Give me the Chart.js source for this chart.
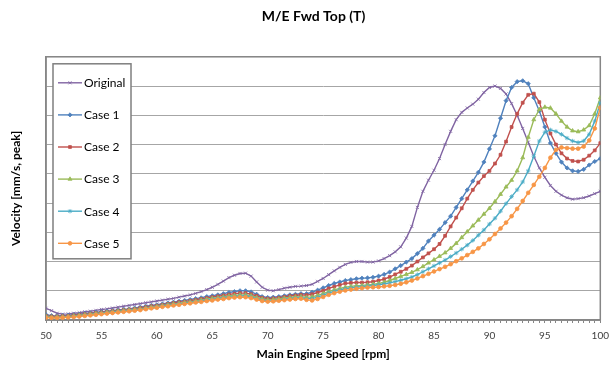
<!DOCTYPE html>
<html>
<head>
<meta charset="utf-8">
<script src="https://cdn.jsdelivr.net/npm/chart.js"></script>
<style>
  html, body { margin: 0; padding: 0; background: #fff; }
</style>
</head>
<body>
<canvas id="velChart" width="616" height="365"></canvas>
<script>
// rpm steps (x categories)
const rpm = [
  50, 50.5, 51, 51.5, 52, 52.5, 53, 53.5, 54, 54.5,
  55, 55.5, 56, 56.5, 57, 57.5, 58, 58.5, 59, 59.5,
  60, 60.5, 61, 61.5, 62, 62.5, 63, 63.5, 64, 64.5,
  65, 65.5, 66, 66.5, 67, 67.5, 68, 68.5, 69, 69.5,
  70, 70.5, 71, 71.5, 72, 72.5, 73, 73.5, 74, 74.5,
  75, 75.5, 76, 76.5, 77, 77.5, 78, 78.5, 79, 79.5,
  80, 80.5, 81, 81.5, 82, 82.5, 83, 83.5, 84, 84.5,
  85, 85.5, 86, 86.5, 87, 87.5, 88, 88.5, 89, 89.5,
  90, 90.5, 91, 91.5, 92, 92.5, 93, 93.5, 94, 94.5,
  95, 95.5, 96, 96.5, 97, 97.5, 98, 98.5, 99, 99.5,
  100
];

const original = [
  0.40, 0.32, 0.23, 0.20, 0.21, 0.23, 0.25, 0.28, 0.30, 0.33,
  0.36, 0.38, 0.41, 0.44, 0.47, 0.50, 0.53, 0.56, 0.59, 0.62,
  0.65, 0.68, 0.71, 0.74, 0.78, 0.82, 0.86, 0.91, 0.97, 1.04,
  1.12, 1.22, 1.33, 1.45, 1.53, 1.59, 1.60, 1.50, 1.30, 1.12,
  1.02, 1.00, 1.04, 1.09, 1.12, 1.15, 1.16, 1.18, 1.22, 1.32,
  1.42, 1.55, 1.68, 1.80, 1.90, 1.97, 2.00, 2.00, 1.98, 1.98,
  2.02, 2.10, 2.20, 2.33, 2.50, 2.80, 3.20, 3.85, 4.40, 4.78,
  5.12, 5.52, 6.00, 6.45, 6.85, 7.10, 7.25, 7.38, 7.55, 7.78,
  7.95, 8.00, 7.92, 7.73, 7.40, 7.00, 6.55, 6.08, 5.60, 5.20,
  4.88, 4.60, 4.40, 4.27, 4.18, 4.13, 4.15, 4.18, 4.24, 4.32,
  4.40
];

const case1 = [
  0.18, 0.15, 0.14, 0.15, 0.16, 0.18, 0.20, 0.22, 0.24, 0.26,
  0.28, 0.30, 0.32, 0.34, 0.36, 0.38, 0.41, 0.44, 0.47, 0.50,
  0.52, 0.55, 0.58, 0.61, 0.64, 0.67, 0.70, 0.73, 0.76, 0.80,
  0.83, 0.86, 0.90, 0.94, 0.97, 1.00, 1.00, 0.96, 0.88, 0.80,
  0.77, 0.78, 0.80, 0.83, 0.86, 0.88, 0.90, 0.90, 0.95, 1.02,
  1.10, 1.18, 1.25, 1.30, 1.35, 1.38, 1.41, 1.43, 1.44, 1.46,
  1.50, 1.56, 1.64, 1.75, 1.86, 1.98, 2.10, 2.27, 2.45, 2.70,
  2.90, 3.10, 3.33, 3.55, 3.85, 4.15, 4.45, 4.75, 5.05, 5.40,
  5.85, 6.30, 6.90, 7.50, 7.95, 8.15, 8.18, 8.08, 7.60, 7.15,
  6.60, 6.05, 5.70, 5.40, 5.20, 5.10, 5.08, 5.15, 5.30, 5.42,
  5.52
];

const case2 = [
  0.14, 0.12, 0.12, 0.13, 0.14, 0.16, 0.18, 0.20, 0.22, 0.24,
  0.26, 0.28, 0.30, 0.32, 0.34, 0.36, 0.38, 0.41, 0.44, 0.47,
  0.49, 0.52, 0.55, 0.58, 0.61, 0.63, 0.66, 0.69, 0.72, 0.75,
  0.78, 0.81, 0.84, 0.87, 0.90, 0.92, 0.92, 0.88, 0.82, 0.76,
  0.73, 0.74, 0.76, 0.79, 0.82, 0.84, 0.86, 0.85, 0.88, 0.94,
  1.00, 1.08, 1.14, 1.20, 1.25, 1.27, 1.28, 1.28, 1.29, 1.31,
  1.35, 1.40, 1.47, 1.56, 1.65, 1.75, 1.86, 2.00, 2.14, 2.28,
  2.42, 2.60, 2.88, 3.20, 3.50, 3.82, 4.15, 4.45, 4.70, 4.92,
  5.10, 5.35, 5.65, 6.10, 6.60, 7.05, 7.43, 7.70, 7.74, 7.45,
  6.85, 6.38, 6.00, 5.70, 5.52, 5.44, 5.42, 5.48, 5.62, 5.80,
  6.05
];

const case3 = [
  0.12, 0.10, 0.10, 0.11, 0.12, 0.14, 0.16, 0.18, 0.20, 0.22,
  0.24, 0.26, 0.28, 0.30, 0.32, 0.34, 0.36, 0.38, 0.41, 0.44,
  0.46, 0.49, 0.52, 0.55, 0.57, 0.60, 0.62, 0.65, 0.68, 0.71,
  0.74, 0.76, 0.79, 0.82, 0.84, 0.86, 0.86, 0.83, 0.77, 0.72,
  0.69, 0.70, 0.72, 0.75, 0.77, 0.79, 0.80, 0.78, 0.79, 0.84,
  0.90, 0.97, 1.03, 1.08, 1.12, 1.15, 1.17, 1.18, 1.20, 1.22,
  1.25, 1.29, 1.35, 1.42, 1.49, 1.56, 1.63, 1.72, 1.83, 1.95,
  2.06, 2.18, 2.30, 2.45, 2.62, 2.82, 3.02, 3.22, 3.42, 3.62,
  3.82, 4.05, 4.30, 4.55, 4.78, 5.10, 5.55, 6.25, 6.85, 7.20,
  7.28, 7.25, 7.05, 6.80, 6.60, 6.47, 6.44, 6.50, 6.65, 7.05,
  7.60
];

const case4 = [
  0.10, 0.08, 0.08, 0.09, 0.10, 0.12, 0.14, 0.16, 0.18, 0.20,
  0.22, 0.24, 0.26, 0.28, 0.30, 0.32, 0.34, 0.36, 0.39, 0.42,
  0.44, 0.47, 0.50, 0.52, 0.55, 0.57, 0.60, 0.62, 0.65, 0.68,
  0.70, 0.73, 0.76, 0.78, 0.80, 0.82, 0.82, 0.79, 0.73, 0.68,
  0.65, 0.66, 0.68, 0.71, 0.73, 0.75, 0.76, 0.73, 0.73, 0.78,
  0.85, 0.92, 0.98, 1.03, 1.07, 1.10, 1.12, 1.14, 1.16, 1.18,
  1.20, 1.23, 1.27, 1.31, 1.36, 1.41, 1.47, 1.55, 1.65, 1.75,
  1.85, 1.95, 2.05, 2.17, 2.29, 2.42, 2.56, 2.72, 2.90, 3.08,
  3.28, 3.48, 3.72, 3.98, 4.22, 4.45, 4.72, 5.10, 5.60, 6.12,
  6.42, 6.50, 6.45, 6.35, 6.22, 6.12, 6.07, 6.12, 6.35, 6.80,
  7.43
];

const case5 = [
  0.08, 0.07, 0.07, 0.08, 0.09, 0.10, 0.12, 0.14, 0.16, 0.18,
  0.20, 0.22, 0.24, 0.26, 0.28, 0.30, 0.32, 0.34, 0.37, 0.40,
  0.42, 0.45, 0.47, 0.50, 0.52, 0.55, 0.57, 0.60, 0.62, 0.65,
  0.67, 0.70, 0.72, 0.75, 0.77, 0.78, 0.78, 0.75, 0.70, 0.65,
  0.63, 0.64, 0.66, 0.68, 0.70, 0.72, 0.73, 0.69, 0.67, 0.72,
  0.79, 0.86, 0.92, 0.97, 1.01, 1.04, 1.07, 1.09, 1.11, 1.12,
  1.13, 1.15, 1.17, 1.20, 1.24, 1.29, 1.35, 1.42, 1.50, 1.58,
  1.66, 1.74, 1.82, 1.91, 2.01, 2.11, 2.22, 2.33, 2.45, 2.60,
  2.76, 2.94, 3.13, 3.33, 3.55, 3.80, 4.07, 4.35, 4.62, 4.90,
  5.20, 5.55, 5.82, 5.90, 5.88, 5.86, 5.86, 5.93, 6.14, 6.55,
  7.26
];

const seriesNames = ['Original', 'Case 1', 'Case 2', 'Case 3', 'Case 4', 'Case 5'];
const seriesValues = [original, case1, case2, case3, case4, case5];
const seriesColors = ['#8064A2', '#4F81BD', '#C0504D', '#9BBB59', '#4BACC6', '#F79646'];
const seriesMarkers = ['crossRot', 'rectRot', 'rect', 'triangle', 'star', 'circle'];
const seriesRadius = [2.2, 2.1, 2.0, 2.3, 2.2, 1.9];

const datasets = seriesNames.map((name, i) => ({
  label: name,
  data: seriesValues[i].map((v, j) => ({ x: rpm[j], y: v })),
  borderColor: seriesColors[i],
  backgroundColor: seriesColors[i],
  pointStyle: seriesMarkers[i],
  pointRadius: seriesRadius[i],
  pointBorderWidth: 0.8,
  borderWidth: 1.4,
  tension: 0,
  order: seriesNames.length - i
}));

// plot area frame (Excel style box)
const plotFrame = {
  id: 'plotFrame',
  beforeDatasetsDraw(chart) {
    const { ctx, chartArea: a } = chart;
    ctx.save();
    ctx.strokeStyle = '#868686';
    ctx.lineWidth = 1.5;
    ctx.strokeRect(a.left, a.top, a.right - a.left, a.bottom - a.top);
    ctx.restore();
  }
};

// legend box drawn inside the plot area
const boxLegend = {
  id: 'boxLegend',
  afterDraw(chart) {
    const { ctx, chartArea: a } = chart;
    const x0 = a.left + 7, y0 = a.top + 7;
    const w = 78, h = 195;
    ctx.save();
    ctx.fillStyle = '#fff';
    ctx.fillRect(x0, y0, w, h);
    ctx.strokeStyle = '#7f7f7f';
    ctx.lineWidth = 1.5;
    ctx.strokeRect(x0, y0, w, h);
    ctx.font = '12px Lato';
    ctx.textBaseline = 'middle';
    chart.data.datasets.forEach((ds, i) => {
      const y = y0 + 19 + i * 32.1;
      ctx.strokeStyle = ds.borderColor;
      ctx.fillStyle = ds.borderColor;
      ctx.lineWidth = 1.4;
      ctx.beginPath();
      ctx.moveTo(x0 + 5, y);
      ctx.lineTo(x0 + 29, y);
      ctx.stroke();
      if (Chart.helpers && Chart.helpers.drawPoint) {
        ctx.lineWidth = 0.8;
        Chart.helpers.drawPoint(ctx, { pointStyle: ds.pointStyle, radius: ds.pointRadius, rotation: 0, borderWidth: 0.8 }, x0 + 17, y);
      }
      ctx.fillStyle = '#000';
      ctx.fillText(ds.label, x0 + 31, y + 0.5);
    });
    ctx.restore();
  }
};

const velChart = document.getElementById('velChart');

new Chart(velChart, {
  type: 'line',
  data: { datasets: datasets },
  plugins: [plotFrame, boxLegend],
  options: {
    responsive: false,
    animation: false,
    layout: { padding: { left: 16, right: 5, top: 0, bottom: 0 } },
    plugins: {
      legend: { display: false },
      tooltip: { enabled: false },
      title: {
        display: true,
        text: 'M/E Fwd Top (T)',
        color: '#000',
        font: { family: 'Lato', size: 14, weight: 'bold' },
        padding: { top: 8, bottom: 32 }
      }
    },
    scales: {
      x: {
        type: 'linear',
        min: 50,
        max: 100,
        afterFit(scale) { scale.height = 45; },
        ticks: {
          stepSize: 0.5,
          autoSkip: false,
          maxRotation: 0,
          padding: 7,
          color: '#404040',
          font: { family: 'Lato', size: 10 },
          callback: (v) => (v % 5 === 0 ? v : '')
        },
        grid: { drawOnChartArea: false, drawTicks: true, tickLength: 3, color: '#868686' },
        border: { display: true, color: '#868686', width: 1.5 },
        title: {
          display: true,
          text: 'Main Engine Speed [rpm]',
          color: '#000',
          font: { family: 'Lato', size: 12, weight: 'bold' },
          padding: { top: 0, bottom: 4 }
        }
      },
      y: {
        min: 0,
        max: 9,
        afterFit(scale) { scale.width = 30; },
        ticks: { stepSize: 1, display: false },
        grid: { color: '#a6a6a6', drawTicks: false },
        border: { display: true, color: '#868686', width: 1.5 },
        title: {
          display: true,
          text: 'Velocity [mm/s, peak]',
          color: '#000',
          font: { family: 'Lato', size: 12, weight: 'bold' },
          padding: { top: -7, bottom: 0 }
        }
      }
    }
  }
});
</script>
</body>
</html>
